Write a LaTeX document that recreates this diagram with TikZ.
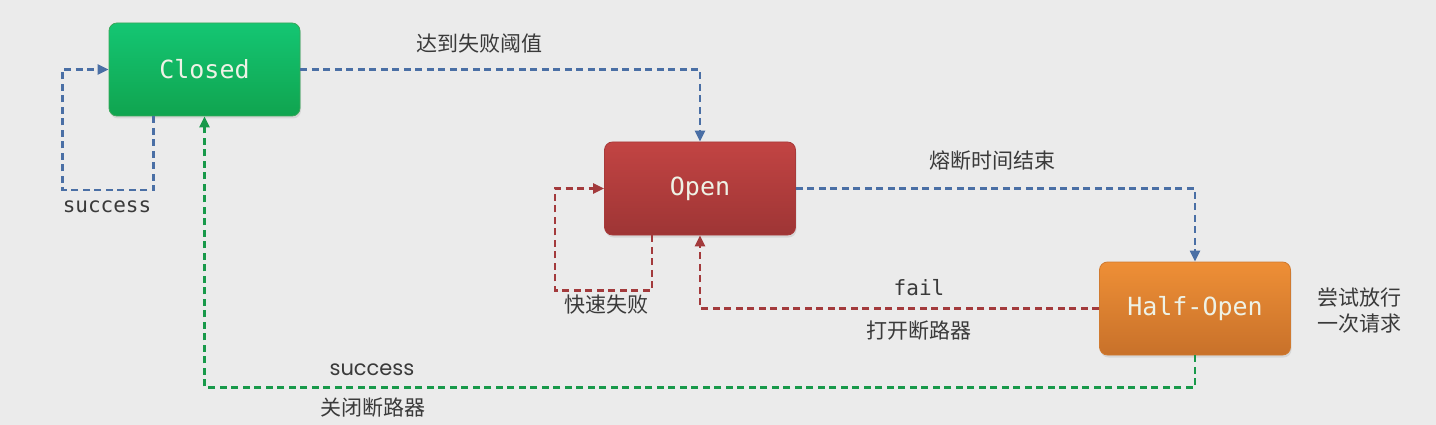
\documentclass[tikz,border=0pt]{standalone}
\usepackage{fontspec}
\setmonofont{DejaVu Sans Mono}
\newfontfamily\cjk{Noto Sans CJK SC}
\newfontfamily\pop{Poppins}
\usetikzlibrary{arrows.meta,shadows,calc}
\definecolor{bg}{HTML}{EBEBEB}
\definecolor{gtop}{HTML}{14C673}
\definecolor{gbot}{HTML}{10A44F}
\definecolor{gbrd}{HTML}{3AA75A}
\definecolor{rtop}{HTML}{C24443}
\definecolor{rbot}{HTML}{9E3535}
\definecolor{rbrd}{HTML}{A83A3A}
\definecolor{otop}{HTML}{EE8F36}
\definecolor{obot}{HTML}{C8712A}
\definecolor{obrd}{HTML}{D07A30}
\definecolor{lblue}{HTML}{4A6FA5}
\definecolor{lred}{HTML}{A33A3C}
\definecolor{lgreen}{HTML}{18994A}
\definecolor{txt}{HTML}{3A3A3A}
\definecolor{boxtxt}{HTML}{EEF2E6}
\tikzset{
  statebox/.style={rounded corners=8pt, minimum width=191pt, minimum height=93pt,
    font=\ttfamily\fontsize{25}{29}\selectfont, text=boxtxt, line width=0.8pt,
    drop shadow={opacity=0.18, shadow xshift=1pt, shadow yshift=-2.5pt}},
  conn/.style={line width=2.2pt, dash pattern=on 7pt off 4.5pt,
    -{Triangle[length=11pt,width=10pt]}},
  cjklbl/.style={font=\cjk\fontsize{21}{26}\selectfont, text=txt},
  monolbl/.style={font=\ttfamily\fontsize{21}{25}\selectfont, text=txt},
  poplbl/.style={font=\pop\fontsize{21}{25}\selectfont, text=txt},
}
\begin{document}
\begin{tikzpicture}[x=1pt,y=-1pt]
\useasboundingbox (0,0) rectangle (1436,425);
\fill[bg] (0,0) rectangle (1436,425);
\node[statebox, top color=gtop, bottom color=gbot, draw=gbrd] (closed) at (204.5,69.5) {Closed};
\node[statebox, top color=rtop, bottom color=rbot, draw=rbrd] (open) at (700,188.5) {Open};
\node[statebox, top color=otop, bottom color=obot, draw=obrd] (half) at (1195,308.5) {Half-Open};
% Closed self loop
\draw[conn, lblue] ($(closed.south)+(-51,0)$) -- ++(0,74) -- ++(-91,0) |- (closed.west);
\node[monolbl] (succ1) at (107,207) {success};
% Closed -> Open
\draw[conn, lblue] (closed.east) -| (open.north);
\node[cjklbl] (l1) at (479,44) {达到失败阈值};
% Open -> Half-Open
\draw[conn, lblue] (open.east) -| (half.north);
\node[cjklbl] (l2) at (992,161) {熔断时间结束};
% Open self loop
\draw[conn, lred] ($(open.south)+(-48,0)$) -- ++(0,55) -- ++(-97,0) |- (open.west);
\node[cjklbl] (l3) at (606,305) {快速失败};
% Half-Open -> Open
\draw[conn, lred] (half.west) -| (open.south);
\node[monolbl] (fail) at (919,288) {fail};
\node[cjklbl] (l4) at (919,331) {打开断路器};
% Half-Open -> Closed
\draw[conn, lgreen] (half.south) -- ++(0,32) -| (closed.south);
\node[poplbl] (succ2) at (372,370) {success};
\node[cjklbl] (l5) at (373,408) {关闭断路器};
% side note
\node[cjklbl, align=center] (note) at (1359,311) {尝试放行\\一次请求};
\end{tikzpicture}
\end{document}
